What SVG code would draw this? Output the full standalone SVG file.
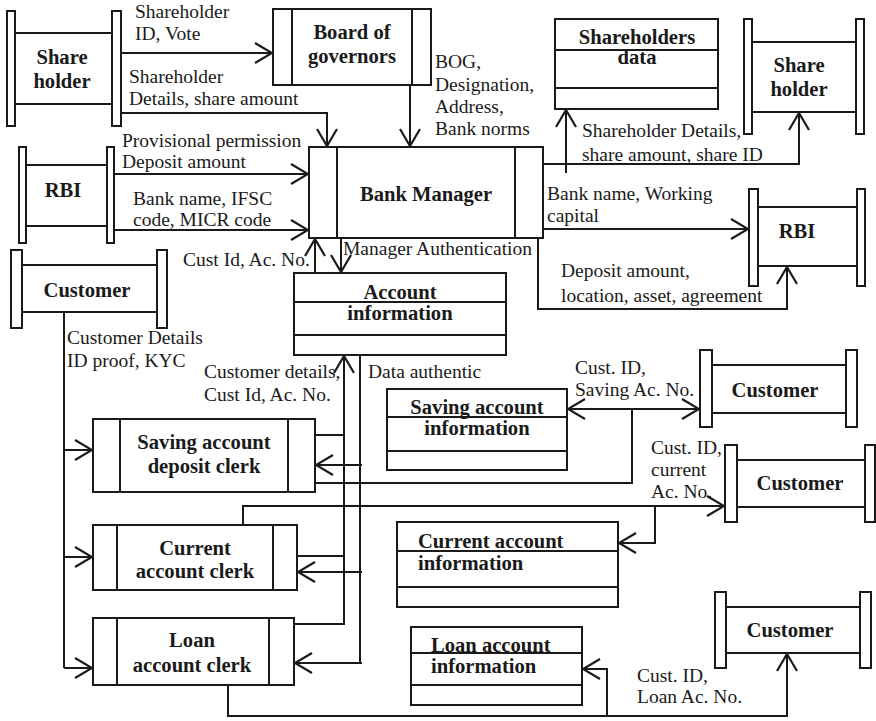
<svg xmlns="http://www.w3.org/2000/svg" width="876" height="721" viewBox="0 0 876 721">
  <style>
    .box { fill: #fff; stroke: #1a1a1a; stroke-width: 2; }
    .ln { fill: none; stroke: #1a1a1a; stroke-width: 2; }
    .wire { fill: none; stroke: #1a1a1a; stroke-width: 2; }
    .arr { marker-end: url(#open); }
    .t { font-family: "Liberation Serif", "Times New Roman", serif; font-weight: bold; font-size: 20.6px; fill: #1a1a1a; text-anchor: middle; }
    .tl { font-family: "Liberation Serif", "Times New Roman", serif; font-weight: bold; font-size: 20.6px; fill: #1a1a1a; }
    .lb { font-family: "Liberation Serif", "Times New Roman", serif; font-size: 19.5px; fill: #1a1a1a; }
  </style>
  <defs>
    <marker id="open" viewBox="-19 -12 21 24" markerWidth="21" markerHeight="24" refX="0" refY="0" markerUnits="userSpaceOnUse" orient="auto-start-reverse">
      <path d="M -17 -10 L 0 0 L -17 10" fill="none" stroke="#1a1a1a" stroke-width="2.2"/>
    </marker>
  </defs>
  <rect width="876" height="721" fill="#fff"/>

  <!-- connectors -->
  <g id="connectors">
    <path class="wire arr" d="M121 53 H272"/>
    <path class="wire arr" d="M121 113 H327 V146"/>
    <path class="wire arr" d="M410 85 V146"/>
    <path class="wire arr" d="M114 174 H308"/>
    <path class="wire arr" d="M114 230 H308"/>
    <path class="wire arr" d="M543 164 H799 V113"/>
    <path class="wire arr" d="M566 173 V110"/>
    <path class="wire arr" d="M543 229 H748"/>
    <path class="wire arr" d="M538 238 V309 H787 V267"/>
    <path class="wire arr" d="M315 273 V239"/>
    <path class="wire arr" d="M341 239 V272"/>
    <path class="wire" d="M64 312 V668"/>
    <path class="wire arr" d="M64 450 H92"/>
    <path class="wire arr" d="M64 557 H92"/>
    <path class="wire arr" d="M64 668 H92"/>
    <path class="wire arr" d="M294 624 H344 V356"/>
    <path class="wire" d="M315 435 H345"/>
    <path class="wire" d="M295 556 H345"/>
    <path class="wire" d="M360 355 V663"/>
    <path class="wire arr" d="M362 465 H316"/>
    <path class="wire arr" d="M362 572 H298"/>
    <path class="wire arr" d="M362 663 H295"/>
    <path class="wire arr" d="M568 409 H699" marker-start="url(#open)"/>
    <path class="wire" d="M632 409 V483 H315"/>
    <path class="wire arr" d="M243 535 V506 H724"/>
    <path class="wire arr" d="M655 506 V543 H619"/>
    <path class="wire arr" d="M228 685 V716 H787 V654"/>
    <path class="wire arr" d="M607 716 V669 H583"/>
  </g>

  <!-- connector labels -->
  <g id="labels" class="lb">
    <text x="135" y="18">Shareholder</text>
    <text x="135" y="40">ID, Vote</text>
    <text x="129" y="83">Shareholder</text>
    <text x="129" y="105">Details, share amount</text>
    <text x="122" y="147">Provisional permission</text>
    <text x="122" y="168">Deposit amount</text>
    <text x="133" y="205">Bank name, IFSC</text>
    <text x="133" y="226">code, MICR code</text>
    <text x="435" y="68">BOG,</text>
    <text x="435" y="91">Designation,</text>
    <text x="435" y="113">Address,</text>
    <text x="435" y="135">Bank norms</text>
    <text x="582" y="137">Shareholder Details,</text>
    <text x="582" y="161">share amount, share ID</text>
    <text x="547" y="200">Bank name, Working</text>
    <text x="547" y="222">capital</text>
    <text x="561" y="277">Deposit amount,</text>
    <text x="561" y="302">location, asset, agreement</text>
    <text x="343" y="255">Manager Authentication</text>
    <text x="183" y="266">Cust Id, Ac. No.</text>
    <text x="67" y="344">Customer Details</text>
    <text x="67" y="367">ID proof, KYC</text>
    <text x="204" y="378">Customer details,</text>
    <text x="204" y="401">Cust Id, Ac. No.</text>
    <text x="368" y="378">Data authentic</text>
    <text x="575" y="374">Cust. ID,</text>
    <text x="575" y="396">Saving Ac. No.</text>
    <text x="651" y="454">Cust. ID,</text>
    <text x="651" y="476">current</text>
    <text x="651" y="498">Ac. No.</text>
    <text x="637" y="682">Cust. ID,</text>
    <text x="637" y="703">Loan Ac. No.</text>
  </g>

  <!-- external entities -->
  <g id="shareholder-left">
    <line class="ln" x1="15" y1="33" x2="112" y2="33"/>
    <line class="ln" x1="15" y1="104" x2="112" y2="104"/>
    <rect class="box" x="7" y="11" width="8" height="115"/>
    <rect class="box" x="112" y="11" width="9" height="115"/>
    <text class="t" x="62" y="64">Share</text>
    <text class="t" x="62" y="88">holder</text>
  </g>
  <g id="rbi-left">
    <line class="ln" x1="26" y1="165" x2="107" y2="165"/>
    <line class="ln" x1="26" y1="226" x2="107" y2="226"/>
    <rect class="box" x="19" y="147" width="7" height="96"/>
    <rect class="box" x="107" y="147" width="7" height="96"/>
    <text class="t" x="63" y="197">RBI</text>
  </g>
  <g id="customer-left">
    <line class="ln" x1="22" y1="265" x2="157" y2="265"/>
    <line class="ln" x1="22" y1="312" x2="157" y2="312"/>
    <rect class="box" x="11" y="250" width="11" height="78"/>
    <rect class="box" x="157" y="250" width="10" height="78"/>
    <text class="t" x="87" y="297">Customer</text>
  </g>
  <g id="shareholder-right">
    <line class="ln" x1="752" y1="42" x2="856" y2="42"/>
    <line class="ln" x1="752" y1="112" x2="856" y2="112"/>
    <rect class="box" x="744" y="19" width="8" height="115"/>
    <rect class="box" x="856" y="19" width="8" height="115"/>
    <text class="t" x="799" y="72">Share</text>
    <text class="t" x="799" y="96">holder</text>
  </g>
  <g id="rbi-right">
    <line class="ln" x1="758" y1="207" x2="857" y2="207"/>
    <line class="ln" x1="758" y1="266" x2="857" y2="266"/>
    <rect class="box" x="749" y="189" width="9" height="97"/>
    <rect class="box" x="857" y="189" width="8" height="97"/>
    <text class="t" x="797" y="238">RBI</text>
  </g>
  <g id="customer-saving">
    <line class="ln" x1="712" y1="365" x2="846" y2="365"/>
    <line class="ln" x1="712" y1="413" x2="846" y2="413"/>
    <rect class="box" x="700" y="350" width="12" height="77"/>
    <rect class="box" x="846" y="350" width="11" height="77"/>
    <text class="t" x="775" y="397">Customer</text>
  </g>
  <g id="customer-current">
    <line class="ln" x1="737" y1="460" x2="865" y2="460"/>
    <line class="ln" x1="737" y1="507" x2="865" y2="507"/>
    <rect class="box" x="725" y="445" width="12" height="77"/>
    <rect class="box" x="865" y="445" width="10" height="77"/>
    <text class="t" x="800" y="490">Customer</text>
  </g>
  <g id="customer-loan">
    <line class="ln" x1="726" y1="607" x2="860" y2="607"/>
    <line class="ln" x1="726" y1="653" x2="860" y2="653"/>
    <rect class="box" x="715" y="592" width="11" height="76"/>
    <rect class="box" x="860" y="592" width="11" height="76"/>
    <text class="t" x="790" y="637">Customer</text>
  </g>

  <!-- processes -->
  <g id="board-of-governors">
    <rect class="box" x="273" y="9" width="158" height="76"/>
    <line class="ln" x1="292" y1="9" x2="292" y2="85"/>
    <line class="ln" x1="412" y1="9" x2="412" y2="85"/>
    <text class="t" x="352" y="39">Board of</text>
    <text class="t" x="352" y="63">governors</text>
  </g>
  <g id="bank-manager">
    <rect class="box" x="309" y="147" width="234" height="91"/>
    <line class="ln" x1="337" y1="147" x2="337" y2="238"/>
    <line class="ln" x1="515" y1="147" x2="515" y2="238"/>
    <text class="t" x="426" y="201">Bank Manager</text>
  </g>
  <g id="saving-clerk">
    <rect class="box" x="93" y="419" width="222" height="73"/>
    <line class="ln" x1="120" y1="419" x2="120" y2="492"/>
    <line class="ln" x1="288" y1="419" x2="288" y2="492"/>
    <text class="t" x="204" y="449">Saving account</text>
    <text class="t" x="204" y="473">deposit clerk</text>
  </g>
  <g id="current-clerk">
    <rect class="box" x="93" y="525" width="204" height="65"/>
    <line class="ln" x1="117" y1="525" x2="117" y2="590"/>
    <line class="ln" x1="273" y1="525" x2="273" y2="590"/>
    <text class="t" x="195" y="555">Current</text>
    <text class="t" x="195" y="578">account clerk</text>
  </g>
  <g id="loan-clerk">
    <rect class="box" x="93" y="618" width="201" height="67"/>
    <line class="ln" x1="117" y1="618" x2="117" y2="685"/>
    <line class="ln" x1="269" y1="618" x2="269" y2="685"/>
    <text class="t" x="192" y="647">Loan</text>
    <text class="t" x="192" y="672">account clerk</text>
  </g>

  <!-- data stores -->
  <g id="shareholders-data">
    <rect class="box" x="555" y="19" width="163" height="90"/>
    <line class="ln" x1="555" y1="50" x2="718" y2="50"/>
    <line class="ln" x1="555" y1="88" x2="718" y2="88"/>
    <text class="t" x="637" y="44">Shareholders</text>
    <text class="t" x="637" y="64">data</text>
  </g>
  <g id="account-information">
    <rect class="box" x="294" y="273" width="212" height="82"/>
    <line class="ln" x1="294" y1="302" x2="506" y2="302"/>
    <line class="ln" x1="294" y1="335" x2="506" y2="335"/>
    <text class="t" x="400" y="299">Account</text>
    <text class="t" x="400" y="320">information</text>
  </g>
  <g id="saving-account-information">
    <rect class="box" x="387" y="389" width="180" height="81"/>
    <line class="ln" x1="387" y1="417" x2="567" y2="417"/>
    <line class="ln" x1="387" y1="451" x2="567" y2="451"/>
    <text class="t" x="477" y="414">Saving account</text>
    <text class="t" x="477" y="435">information</text>
  </g>
  <g id="current-account-information">
    <rect class="box" x="397" y="522" width="221" height="85"/>
    <line class="ln" x1="397" y1="551" x2="618" y2="551"/>
    <line class="ln" x1="397" y1="587" x2="618" y2="587"/>
    <text class="tl" x="418" y="548">Current account</text>
    <text class="tl" x="418" y="570">information</text>
  </g>
  <g id="loan-account-information">
    <rect class="box" x="411" y="627" width="171" height="78"/>
    <line class="ln" x1="411" y1="653" x2="582" y2="653"/>
    <line class="ln" x1="411" y1="685" x2="582" y2="685"/>
    <text class="tl" x="431" y="652">Loan account</text>
    <text class="tl" x="431" y="673">information</text>
  </g>
</svg>
